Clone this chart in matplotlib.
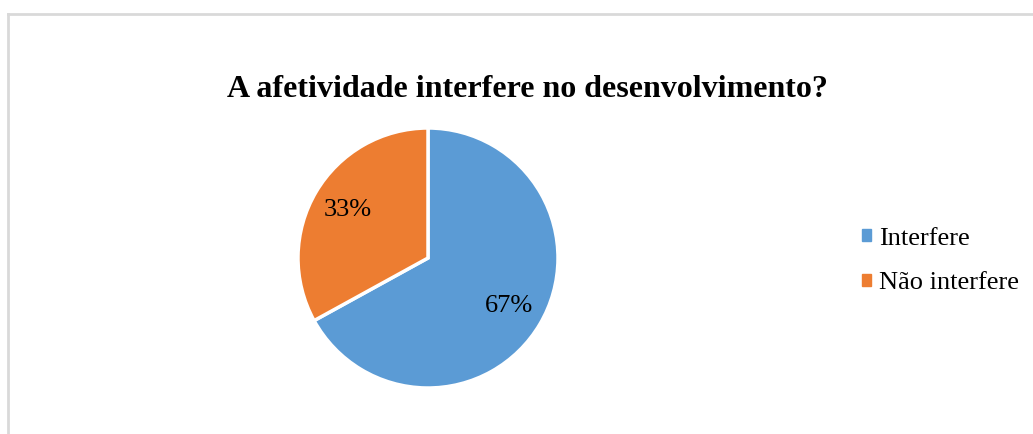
import matplotlib.pyplot as plt
from matplotlib.patches import Rectangle
from matplotlib.lines import Line2D

categorias = ["Interfere", "Não interfere"]
valores = [67, 33]
cores = ["#5B9BD5", "#ED7D31"]

plt.rcParams['font.family'] = ['Liberation Serif', 'DejaVu Serif']

fig = plt.figure(figsize=(10.33, 4.34), dpi=100)

# moldura cinza (só topo e esquerda aparecem no recorte)
fig.add_artist(Line2D([7.5 / 1033, 1], [1 - 13.5 / 434, 1 - 13.5 / 434],
                      color="#D9D9D9", lw=2, transform=fig.transFigure))
fig.add_artist(Line2D([7.5 / 1033, 7.5 / 1033], [0, 1 - 13.5 / 434],
                      color="#D9D9D9", lw=2, transform=fig.transFigure))

fig.text(527 / 1033, 1 - 97 / 434, "A afetividade interfere no desenvolvimento?",
         ha="center", va="baseline", fontsize=23, fontweight="bold")

# eixo do pie: centro (428, 258), raio 130
r = 130
ax = fig.add_axes([(428 - r) / 1033, (434 - 258 - r) / 434, 2 * r / 1033, 2 * r / 434])
wedges, textos, pcts = ax.pie(valores, colors=cores, startangle=90, counterclock=False,
                              autopct="%1.0f%%", pctdistance=0.72,
                              wedgeprops=dict(edgecolor="white", linewidth=2.5),
                              textprops=dict(fontsize=19, color="black"))
ax.set_xlim(-1, 1)
ax.set_ylim(-1, 1)
ax.set_aspect("equal")

handles = [Rectangle((0, 0), 1, 1, color=c) for c in cores]
fig.legend(handles, categorias, loc="center left",
           bbox_to_anchor=(838 / 1033, 1 - 261 / 434), frameon=False,
           fontsize=19, handlelength=0.34, handleheight=0.34, handletextpad=0.3,
           labelspacing=0.86)

fig.savefig("out.png", dpi=100)
